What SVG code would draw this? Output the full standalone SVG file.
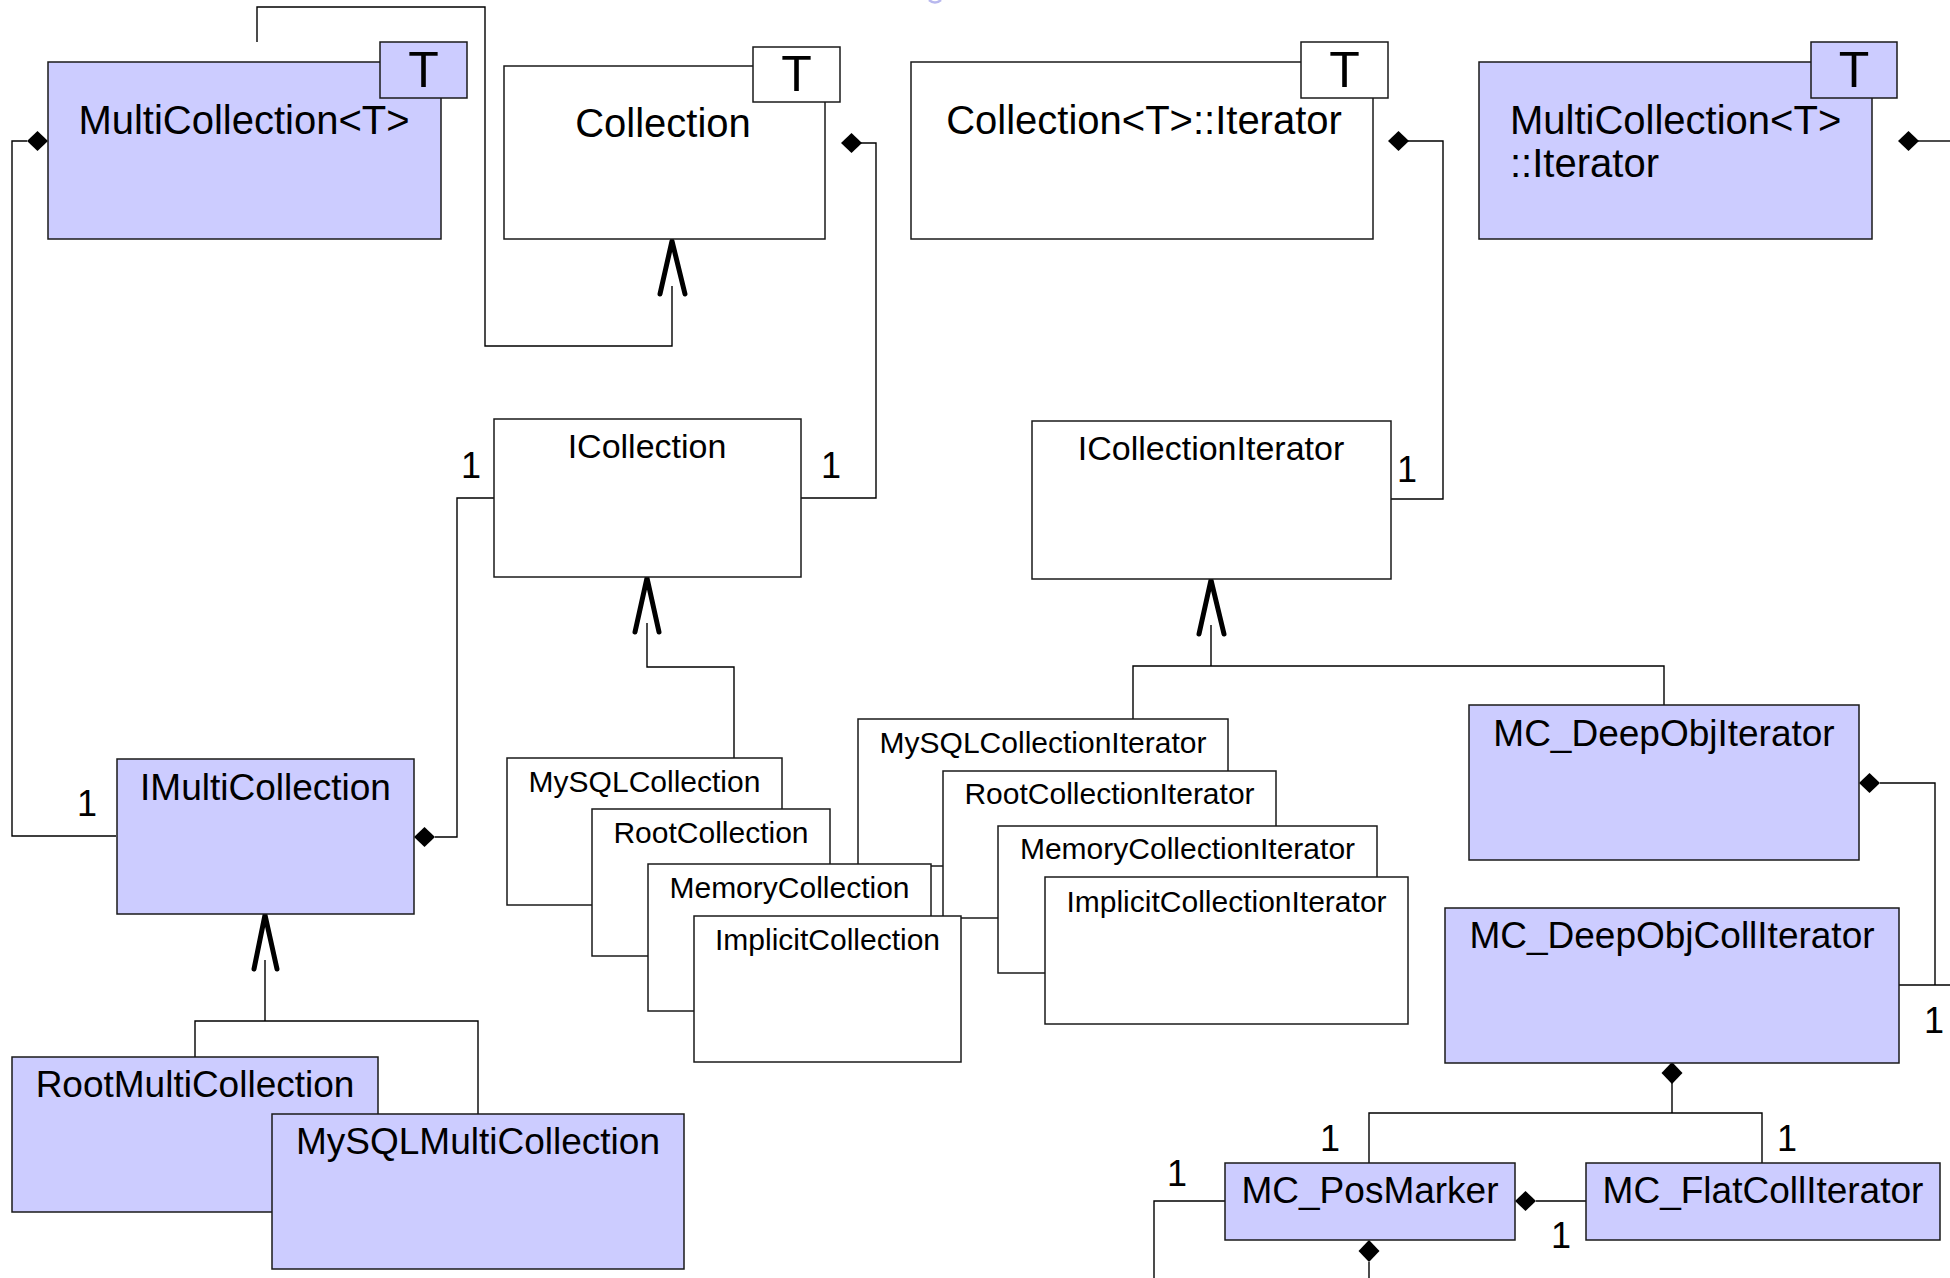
<svg xmlns="http://www.w3.org/2000/svg" xmlns:xlink="http://www.w3.org/1999/xlink" width="1950" height="1278" viewBox="0 0 1950 1278">
<style>
.box{stroke:#1a1a1a;stroke-width:1.5}
.w{fill:#ffffff}
.p{fill:#ccccff}
.ln{fill:none;stroke:#000;stroke-width:1.4}
.gen{fill:none;stroke:#000;stroke-width:5;stroke-linecap:round;stroke-linejoin:round}
text{font-family:"Liberation Sans",Arial,sans-serif;fill:#000}
.big{font-size:40px}
.mid{font-size:37px}
.ifc{font-size:34px}
.sm{font-size:30px}
.t{font-size:50px;text-anchor:middle}
.c{text-anchor:middle}
.m{font-size:36px;text-anchor:middle}
</style>
<defs>
<path id="dh" d="M0,0 L10.5,-10 L21,0 L10.5,10 Z" fill="#000"/>
<path id="dv" d="M0,0 L-10.5,11 L0,22 L10.5,11 Z" fill="#000"/>
</defs>
<rect width="1950" height="1278" fill="#fff"/>
<path d="M929,0 Q935,5 941,0" fill="none" stroke="#b8b8ee" stroke-width="2.5"/>

<g id="connectors">
  <path class="ln" d="M257,42 V7 H485 V346 H672 V286"/>
  <polyline class="gen" points="660,294 672,241 685,294"/>
  <path class="ln" d="M27,141 H12 V836 H116"/>
  <use xlink:href="#dh" x="27" y="141"/>
  <path class="ln" d="M861,143 H876 V498 H801"/>
  <use xlink:href="#dh" x="841" y="143"/>
  <path class="ln" d="M435,837 H457 V498 H494"/>
  <use xlink:href="#dh" x="414" y="837"/>
  <path class="ln" d="M647,623 V667 H734 V758"/>
  <polyline class="gen" points="635,632 647,578 659,632"/>
  <path class="ln" d="M1408,141 H1443 V499 H1391"/>
  <use xlink:href="#dh" x="1388" y="141"/>
  <path class="ln" d="M1211,625 V666 M1133,719 V666 H1664 V705"/>
  <polyline class="gen" points="1199,634 1211,580 1224,634"/>
  <path class="ln" d="M1918,141 H1950"/>
  <use xlink:href="#dh" x="1898" y="141"/>
  <path class="ln" d="M1880,783 H1935 V985 M1899,985 H1950"/>
  <use xlink:href="#dh" x="1859" y="783"/>
  <path class="ln" d="M265,960 V1021 M195,1057 V1021 H478 V1114"/>
  <polyline class="gen" points="254,969 265,915 277,969"/>
  <path class="ln" d="M1672,1083 V1113 M1369,1163 V1113 H1762 V1163"/>
  <use xlink:href="#dv" x="1672" y="1062"/>
  <path class="ln" d="M1536,1201 H1586"/>
  <use xlink:href="#dh" x="1515" y="1201"/>
  <path class="ln" d="M1225,1201 H1154 V1278"/>
  <path class="ln" d="M1369,1262 V1278"/>
  <use xlink:href="#dv" x="1369" y="1240"/>
  <text class="m" x="87" y="816">1</text>
  <text class="m" x="471" y="478">1</text>
  <text class="m" x="831" y="478">1</text>
  <text class="m" x="1407" y="482">1</text>
  <text class="m" x="1934" y="1033">1</text>
  <text class="m" x="1330" y="1151">1</text>
  <text class="m" x="1787" y="1151">1</text>
  <text class="m" x="1177" y="1186">1</text>
  <text class="m" x="1561" y="1248">1</text>
</g>

<g id="MultiCollectionT">
  <rect class="box p" x="48" y="62" width="393" height="177"/>
  <rect class="box p" x="380" y="42" width="87" height="56"/>
  <text class="t" x="423.5" y="87">T</text>
  <text class="big c" x="244" y="134">MultiCollection&lt;T&gt;</text>
</g>
<g id="Collection">
  <rect class="box w" x="504" y="66" width="321" height="173"/>
  <rect class="box w" x="753" y="47" width="87" height="55"/>
  <text class="t" x="796.5" y="91">T</text>
  <text class="big c" x="663" y="137">Collection</text>
</g>
<g id="CollectionIterator">
  <rect class="box w" x="911" y="62" width="462" height="177"/>
  <rect class="box w" x="1301" y="42" width="87" height="56"/>
  <text class="t" x="1344.5" y="87">T</text>
  <text class="big c" x="1144" y="134">Collection&lt;T&gt;::Iterator</text>
</g>
<g id="MultiCollectionIterator">
  <rect class="box p" x="1479" y="62" width="393" height="177"/>
  <rect class="box p" x="1811" y="42" width="86" height="56"/>
  <text class="t" x="1854" y="87">T</text>
  <text class="big" x="1510" y="134">MultiCollection&lt;T&gt;</text>
  <text class="big" x="1510" y="177">::Iterator</text>
</g>
<g id="ICollection">
  <rect class="box w" x="494" y="419" width="307" height="158"/>
  <text class="ifc c" x="647" y="458">ICollection</text>
</g>
<g id="ICollectionIterator">
  <rect class="box w" x="1032" y="421" width="359" height="158"/>
  <text class="ifc c" x="1211" y="460">ICollectionIterator</text>
</g>
<g id="IMultiCollection">
  <rect class="box p" x="117" y="759" width="297" height="155"/>
  <text class="mid c" x="265.5" y="800">IMultiCollection</text>
</g>
<g id="RootMultiCollection">
  <rect class="box p" x="12" y="1057" width="366" height="155"/>
  <text class="mid c" x="195" y="1097">RootMultiCollection</text>
</g>
<g id="MySQLMultiCollection">
  <rect class="box p" x="272" y="1114" width="412" height="155"/>
  <text class="mid c" x="478" y="1154">MySQLMultiCollection</text>
</g>
<g id="MySQLCollectionIterator">
  <rect class="box w" x="858" y="719" width="370" height="147"/>
  <text class="sm c" x="1043" y="753">MySQLCollectionIterator</text>
</g>
<g id="RootCollectionIterator">
  <rect class="box w" x="943" y="771" width="333" height="147"/>
  <text class="sm c" x="1109.5" y="804">RootCollectionIterator</text>
</g>
<g id="MemoryCollectionIterator">
  <rect class="box w" x="998" y="826" width="379" height="147"/>
  <text class="sm c" x="1187.5" y="859">MemoryCollectionIterator</text>
</g>
<g id="ImplicitCollectionIterator">
  <rect class="box w" x="1045" y="877" width="363" height="147"/>
  <text class="sm c" x="1226.5" y="912">ImplicitCollectionIterator</text>
</g>
<g id="MySQLCollection">
  <rect class="box w" x="507" y="758" width="275" height="147"/>
  <text class="sm c" x="644.5" y="792">MySQLCollection</text>
</g>
<g id="RootCollection">
  <rect class="box w" x="592" y="809" width="238" height="147"/>
  <text class="sm c" x="711" y="843">RootCollection</text>
</g>
<g id="MemoryCollection">
  <rect class="box w" x="648" y="864" width="283" height="147"/>
  <text class="sm c" x="789.5" y="898">MemoryCollection</text>
</g>
<g id="ImplicitCollection">
  <rect class="box w" x="694" y="916" width="267" height="146"/>
  <text class="sm c" x="827.5" y="950">ImplicitCollection</text>
</g>
<g id="MC_DeepObjIterator">
  <rect class="box p" x="1469" y="705" width="390" height="155"/>
  <text class="mid c" x="1664" y="746">MC_DeepObjIterator</text>
</g>
<g id="MC_DeepObjCollIterator">
  <rect class="box p" x="1445" y="908" width="454" height="155"/>
  <text class="mid c" x="1672" y="948">MC_DeepObjCollIterator</text>
</g>
<g id="MC_PosMarker">
  <rect class="box p" x="1225" y="1163" width="290" height="77"/>
  <text class="mid c" x="1370" y="1203">MC_PosMarker</text>
</g>
<g id="MC_FlatCollIterator">
  <rect class="box p" x="1586" y="1163" width="354" height="77"/>
  <text class="mid c" x="1763" y="1203">MC_FlatCollIterator</text>
</g>
</svg>
